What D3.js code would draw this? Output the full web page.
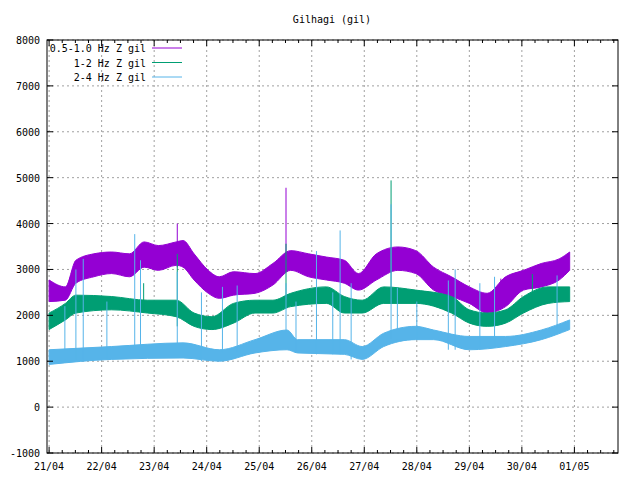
<!DOCTYPE html>
<html><head><meta charset="utf-8">
<script src="https://cdn.jsdelivr.net/npm/d3@7"></script>
<style>body{margin:0;background:#fff}text{font-family:"DejaVu Sans Mono",monospace;font-size:10px}</style>
</head><body><svg id="c" width="640" height="480"></svg>
<script>
const xLabels=["21/04","22/04","23/04","24/04","25/04","26/04","27/04","28/04","29/04","30/04","01/05"];
const yTicks=[-1000,0,1000,2000,3000,4000,5000,6000,7000,8000];
const pDay=[0,.31,.51,.85,1.19,1.53,1.81,2.08,2.42,2.55,2.76,3.03,3.24,3.51,3.92,4.26,4.60,4.94,5.28,5.62,5.89,6.23,6.64,6.98,7.32,7.66,8.00,8.34,8.69,9.03,9.37,9.71,9.91];
const pLo=[2300,2330,2700,2840,2910,2840,3050,2980,3090,3050,2770,2480,2370,2440,2480,2660,2980,2840,2770,2700,2550,2770,2980,2910,2550,2410,2260,2050,2190,2550,2620,2770,2980];
const pHi=[2770,2620,3200,3340,3380,3340,3600,3520,3600,3630,3340,2980,2840,2950,2910,3130,3410,3340,3270,3200,2910,3340,3490,3410,3050,2840,2620,2480,2840,2980,3130,3230,3380];
const gDay=[0,.31,.51,1.19,1.87,2.42,2.76,3.10,3.51,3.92,4.26,4.60,5.28,5.62,5.96,6.37,6.98,7.66,8.00,8.34,8.69,9.03,9.50,9.91];
const gLo=[1690,1900,2050,2120,2050,1970,1760,1690,1830,2050,2050,2190,2260,2050,2050,2260,2260,2050,1830,1760,1830,2050,2260,2300];
const gHi=[2050,2260,2440,2410,2330,2330,2050,1970,2260,2330,2330,2480,2620,2410,2330,2620,2550,2410,2120,2050,2120,2410,2620,2620];
const bDay=[0,1.19,2.55,3.24,3.92,4.53,4.73,5.62,5.96,6.37,6.98,7.32,8.00,8.69,9.37,9.91];
const bLo=[930,1040,1070,1000,1180,1250,1180,1150,1040,1320,1470,1470,1250,1320,1470,1690];
const bHi=[1250,1320,1400,1250,1470,1680,1470,1470,1320,1610,1760,1680,1540,1540,1680,1900];
const pSpikes=[[2.44,4000],[4.51,4780],[8.6,2800]];
const gSpikes=[[2.44,3340],[4.51,3560],[6.51,4940],[1.8,2700],[9.2,2900]];
const bSpikes=[[0.51,3000],[0.65,3230],[1.63,3770],[1.74,3200],[2.44,2950],[3.30,2620],[3.58,2650],[4.51,2700],[5.09,3400],[5.54,3850],[5.40,2500],[6.51,4420],[6.63,2600],[7.60,2760],[7.73,3000],[8.48,2840],[9.67,2870],[0.3,2200],[1.1,2300],[2.9,2500],[4.7,2300],[5.75,2700],[7.0,2300],[8.2,2700]];
const series=[
 {name:"0.5-1.0 Hz Z gil",color:"#9400d3",day:pDay,lo:pLo,hi:pHi,sp:pSpikes},
 {name:"1-2 Hz Z gil",color:"#009e73",day:gDay,lo:gLo,hi:gHi,sp:gSpikes},
 {name:"2-4 Hz Z gil",color:"#56b4e9",day:bDay,lo:bLo,hi:bHi,sp:bSpikes}];
const L=47,R=618,T=40,B=453;
const svg=d3.select("#c");
const x=d3.scaleLinear().domain([-0.04,10.83]).range([L,R]);
const y=d3.scaleLinear().domain([-1000,8000]).range([B,T]);
const g=svg.append("g");
for(let i=0;i<xLabels.length;i++) g.append("line").attr("x1",x(i)).attr("x2",x(i)).attr("y1",T).attr("y2",B).attr("stroke","#a0a0a0").attr("stroke-dasharray","2,3");
yTicks.forEach(v=>g.append("line").attr("x1",L).attr("x2",R).attr("y1",y(v)).attr("y2",y(v)).attr("stroke","#a0a0a0").attr("stroke-dasharray","2,3"));
series.forEach(s=>{
 const pts=s.day.map((d,i)=>({d,lo:s.lo[i],hi:s.hi[i]}));
 g.append("path").attr("d",d3.area().curve(d3.curveMonotoneX).x(p=>x(p.d)).y0(p=>y(p.lo)).y1(p=>y(p.hi))(pts)).attr("fill",s.color).attr("stroke",s.color).attr("stroke-width",1);
 s.sp.forEach(([d,v])=>{
   const i=d3.bisectLeft(s.day,d); const base=s.lo[Math.min(i,s.day.length-1)];
   g.append("line").attr("x1",x(d)).attr("x2",x(d)).attr("y1",y(base)).attr("y2",y(v)).attr("stroke",s.color).attr("stroke-width",1);
 });
});
g.append("rect").attr("x",L).attr("y",T).attr("width",R-L).attr("height",B-T).attr("fill","none").attr("stroke","#000");
yTicks.forEach(v=>{
 g.append("line").attr("x1",L).attr("x2",L+6).attr("y1",y(v)).attr("y2",y(v)).attr("stroke","#000");
 g.append("line").attr("x1",R).attr("x2",R-6).attr("y1",y(v)).attr("y2",y(v)).attr("stroke","#000");
 g.append("text").attr("x",L-7).attr("y",y(v)+4).attr("text-anchor","end").text(v);
});
for(let q=0;q<=43;q++){const d=q/4,len=q%4?3:6;
 g.append("line").attr("x1",x(d)).attr("x2",x(d)).attr("y1",B).attr("y2",B-len).attr("stroke","#000");
 g.append("line").attr("x1",x(d)).attr("x2",x(d)).attr("y1",T).attr("y2",T+len).attr("stroke","#000");}
xLabels.forEach((t,i)=>g.append("text").attr("x",x(i)).attr("y",470).attr("text-anchor","middle").text(t));
svg.append("text").attr("x",332).attr("y",23).attr("text-anchor","middle").text("Gilhagi (gil)");
series.forEach((s,i)=>{const yy=48+i*14.5;
 svg.append("text").attr("x",146).attr("y",yy+4).attr("text-anchor","end").text(s.name);
 svg.append("line").attr("x1",152).attr("x2",182).attr("y1",yy).attr("y2",yy).attr("stroke",s.color);});
</script></body></html>
